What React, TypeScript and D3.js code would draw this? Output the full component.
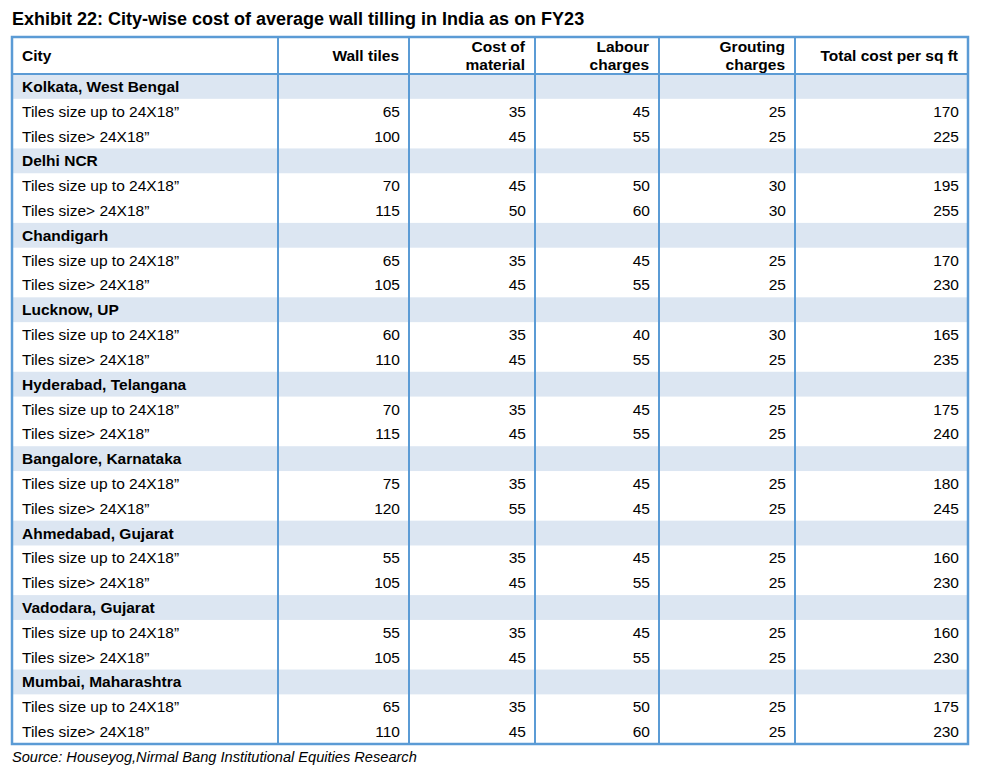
import React from "react";
import * as d3 from "d3";

const title = "Exhibit 22: City-wise cost of average wall tilling in India as on FY23";
const source = "Source: Houseyog,Nirmal Bang Institutional Equities Research";
const headers = [["City"], ["Wall tiles"], ["Cost of", "material"], ["Labour", "charges"], ["Grouting", "charges"], ["Total cost per sq ft"]];
const cities = ["Kolkata, West Bengal", "Delhi NCR", "Chandigarh", "Lucknow, UP", "Hyderabad, Telangana", "Bangalore, Karnataka", "Ahmedabad, Gujarat", "Vadodara, Gujarat", "Mumbai, Maharashtra"];
const sizeLabels = ["Tiles size up to 24X18”", "Tiles size> 24X18”"];
const wallTiles = [65, 100, 70, 115, 65, 105, 60, 110, 70, 115, 75, 120, 55, 105, 55, 105, 65, 110];
const costMaterial = [35, 45, 45, 50, 35, 45, 35, 45, 35, 45, 35, 55, 35, 45, 35, 45, 35, 45];
const labourCharges = [45, 55, 50, 60, 45, 55, 40, 55, 45, 55, 45, 45, 45, 55, 45, 55, 50, 60];
const groutingCharges = [25, 25, 30, 30, 25, 25, 30, 25, 25, 25, 25, 25, 25, 25, 25, 25, 25, 25];
const totalCost = [170, 225, 195, 255, 170, 230, 165, 235, 175, 240, 180, 245, 160, 230, 160, 230, 175, 230];

const colEdges = [12, 278, 409, 535, 659, 795, 968];
const headerTop = 37;
const headerBottom = 74;
const tableBottom = 744;
const BORDER = "#5b9bd5";
const BAND = "#dce6f2";
const FONT = "Arial, 'Liberation Sans', sans-serif";

type Row = { kind: "city"; label: string } | { kind: "data"; label: string; values: number[] };

const rows: Row[] = [];
cities.forEach((c, ci) => {
  rows.push({ kind: "city", label: c });
  sizeLabels.forEach((s, si) => {
    const i = ci * 2 + si;
    rows.push({ kind: "data", label: s, values: [wallTiles[i], costMaterial[i], labourCharges[i], groutingCharges[i], totalCost[i]] });
  });
});

export default function App() {
  const y = d3.scaleLinear().domain([0, rows.length]).range([headerBottom, tableBottom]);
  const rh = y(1) - y(0);
  return (
    <svg width={997} height={775} style={{ position: "absolute", left: 0, top: 0, background: "#fff" }} fontFamily={FONT}>
      <text x={12} y={25} fontSize={18} fontWeight="bold" fill="#000">{title}</text>
      {rows.map((r, i) =>
        r.kind === "city" ? (
          <rect key={"b" + i} x={colEdges[0]} y={y(i)} width={colEdges[6] - colEdges[0]} height={rh} fill={BAND} />
        ) : null
      )}
      {headers.map((h, ci) => {
        const left = ci === 0;
        const x = left ? colEdges[0] + 10 : colEdges[ci + 1] - 10;
        const mid = (headerTop + headerBottom) / 2;
        return (
          <text key={"h" + ci} x={x} textAnchor={left ? "start" : "end"} fontSize={15.5} fontWeight="bold" fill="#000">
            {h.map((line, li) => (
              <tspan key={li} x={x} y={mid + 5 + (li - (h.length - 1) / 2) * 18}>{line}</tspan>
            ))}
          </text>
        );
      })}
      {rows.map((r, i) => {
        const cy = y(i) + rh / 2 + 5.5;
        if (r.kind === "city") {
          return <text key={"t" + i} x={colEdges[0] + 10} y={cy} fontSize={15.5} fontWeight="bold" fill="#000">{r.label}</text>;
        }
        return (
          <g key={"t" + i}>
            <text x={colEdges[0] + 10} y={cy} fontSize={15.5} fill="#000">{r.label}</text>
            {r.values.map((v, vi) => (
              <text key={vi} x={colEdges[vi + 2] - 9} y={cy} fontSize={15.5} textAnchor="end" fill="#000">{v}</text>
            ))}
          </g>
        );
      })}
      <line x1={colEdges[0]} x2={colEdges[6]} y1={headerBottom} y2={headerBottom} stroke={BORDER} strokeWidth={2} />
      {colEdges.slice(1, 6).map((x, i) => (
        <line key={"v" + i} x1={x} x2={x} y1={headerTop} y2={tableBottom} stroke={BORDER} strokeWidth={2} />
      ))}
      <rect x={colEdges[0]} y={headerTop} width={colEdges[6] - colEdges[0]} height={tableBottom - headerTop} fill="none" stroke={BORDER} strokeWidth={2.5} />
      <text x={12} y={762} fontSize={14.6} fontStyle="italic" fill="#000">{source}</text>
    </svg>
  );
}
